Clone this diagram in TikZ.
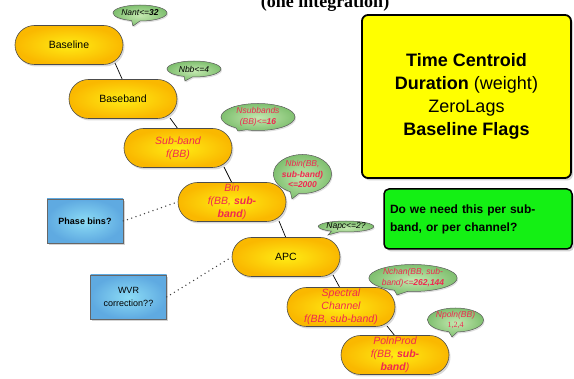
\documentclass[tikz,border=0pt]{standalone}
\usepackage{fontspec}
\setmainfont{Liberation Sans}
\newfontfamily\serifface{Liberation Serif}
\usetikzlibrary{shapes.misc,shapes.callouts,shadows,calc}

\definecolor{pillin}{RGB}{255,236,20}
\definecolor{pillout}{RGB}{250,184,0}
\definecolor{pilltext}{RGB}{240,40,80}
\definecolor{bubin}{RGB}{196,232,176}
\definecolor{bubout}{RGB}{128,192,112}
\definecolor{bluein}{RGB}{140,220,245}
\definecolor{blueout}{RGB}{95,170,225}
\definecolor{notebox}{RGB}{255,255,0}
\definecolor{askbox}{RGB}{20,240,20}

\tikzset{
  pill/.style={rounded rectangle, draw=black!70, line width=0.6pt,
    inner color=pillin, outer color=pillout,
    minimum width=108pt, minimum height=39pt, inner sep=0pt, align=center,
    font=\fontsize{10.5}{13}\selectfont,
    drop shadow={opacity=0.3, shadow xshift=1.5pt, shadow yshift=-2pt}},
  redtext/.style={text=pilltext, font=\fontsize{10.5}{13}\selectfont\itshape},
  bubble/.style={ellipse callout, draw=black!65, line width=0.5pt,
    inner color=bubin, outer color=bubout, inner sep=0pt, align=center,
    callout pointer arc=18,
    font=\fontsize{8.5}{10.5}\selectfont\itshape,
    drop shadow={opacity=0.25, shadow xshift=1pt, shadow yshift=-1.5pt}},
  bluebox/.style={rectangle, draw=black!60, line width=0.5pt,
    inner color=bluein, outer color=blueout, align=center,
    minimum width=76pt, minimum height=44pt, inner sep=0pt,
    font=\fontsize{9}{13}\selectfont,
    drop shadow={opacity=0.35, shadow xshift=1.5pt, shadow yshift=-2pt}},
  link/.style={draw=black, line width=0.7pt},
  dotlink/.style={draw=black!75, line width=1.5pt, line cap=round,
    dash pattern=on 0pt off 4.5pt},
}

\begin{document}
\begin{tikzpicture}[x=1pt,y=-1pt]
\useasboundingbox (0,0) rectangle (574,379);

% heading, partly above the top edge
\node[anchor=base, inner sep=0pt, font=\serifface\bfseries\fontsize{18}{20}\selectfont]
  (heading) at (325,8) {(one integration)};

% connectors between the steps (drawn first, under the boxes)
\coordinate (c1a) at (115,63);  \coordinate (c1b) at (123,81);
\coordinate (c2a) at (170,118); \coordinate (c2b) at (178,129);
\coordinate (c3a) at (224,167); \coordinate (c3b) at (232,183);
\coordinate (c4a) at (279,221); \coordinate (c4b) at (286,238);
\coordinate (c5a) at (333,275); \coordinate (c5b) at (340,288);
\coordinate (c6a) at (387,326); \coordinate (c6b) at (395,336);
\foreach \i in {1,...,6} { \draw[link] (c\i a) -- (c\i b); }

% the chain of steps
\node[pill] (baseline) at (69,45)  {Baseline};
\node[pill] (baseband) at (123,99) {Baseband};
\node[pill, redtext] (subband) at (178,148) {Sub-band\\f(BB)};
\node[pill, redtext] (bin) at (232,202) {Bin\\f(BB, \textbf{sub-}\\\textbf{band})};
\node[pill] (apc) at (286,257) {APC};
\node[pill, redtext] (spec) at (341,307) {Spectral\\Channel\\f(BB, sub-band)};
\node[pill, redtext] (poln) at (395,355) {PolnProd\\f(BB, \textbf{sub-}\\\textbf{band})};

% size annotations
\node[bubble, minimum width=54pt, minimum height=16pt,
  callout absolute pointer={(133,26)}] (nant) at (140,13) {Nant<=\textbf{32}};
\node[bubble, minimum width=54pt, minimum height=16pt,
  callout absolute pointer={(185,81)}] (nbb) at (194,69) {Nbb<=4};
\node[bubble, text=pilltext, minimum width=74pt, minimum height=27pt,
  callout absolute pointer={(238,131)}] (nsub) at (258,117)
  {Nsubbands\\(BB)<=\textbf{16}};
\node[bubble, text=pilltext, minimum width=55pt, minimum height=39pt,
  callout absolute pointer={(292,199)}] (nbin) at (302.5,174)
  {Nbin(BB,\\\textbf{sub-band)}\\\textbf{<=2000}};
\node[bubble, minimum width=54pt, minimum height=11pt,
  callout absolute pointer={(328,235)}] (napc) at (346,226.5) {Napc<=2?};
\node[bubble, text=pilltext, minimum width=74pt, minimum height=27pt,
  callout absolute pointer={(397,295)}] (nchan) at (413,278)
  {Nchan(BB, sub-\\band)<=\textbf{262,144}};
\node[bubble, text=pilltext, minimum width=56pt, minimum height=24pt,
  callout absolute pointer={(452,337)}] (npoln) at (455.5,320)
  {Npoln(BB)\\[-1pt]{\upshape\serifface\fontsize{8}{9}\selectfont 1,2,4}};

% open questions
\node[bluebox, font=\fontsize{9}{13}\selectfont\bfseries] (phase) at (85,221) {Phase bins?};
\node[bluebox] (wvr) at (128.5,297) {WVR\\correction??};
\draw[dotlink] (phase.east) -- (bin.west);
\draw[dotlink] (wvr.east) -- (apc.west);

% notes on the right
\node[rectangle, rounded corners=6pt, draw=black, line width=1.8pt, fill=notebox,
  minimum width=209pt, minimum height=163pt, inner sep=0pt, align=center,
  font=\fontsize{18}{23}\selectfont,
  drop shadow={opacity=0.35, shadow xshift=2pt, shadow yshift=-2.5pt}]
  (notes) at (466.5,96.5)
  {\textbf{Time Centroid}\\\textbf{Duration} (weight)\\ZeroLags\\\textbf{Baseline Flags}};
\node[rectangle, rounded corners=5pt, draw=black, line width=1.5pt, fill=askbox,
  text width=176pt, minimum height=60pt, inner sep=6pt, align=left,
  font=\fontsize{12}{18}\selectfont\bfseries,
  drop shadow={opacity=0.35, shadow xshift=2pt, shadow yshift=-2.5pt}]
  (ask) at (478,219) {Do we need this per sub-\\band, or per channel?};
\end{tikzpicture}
\end{document}
